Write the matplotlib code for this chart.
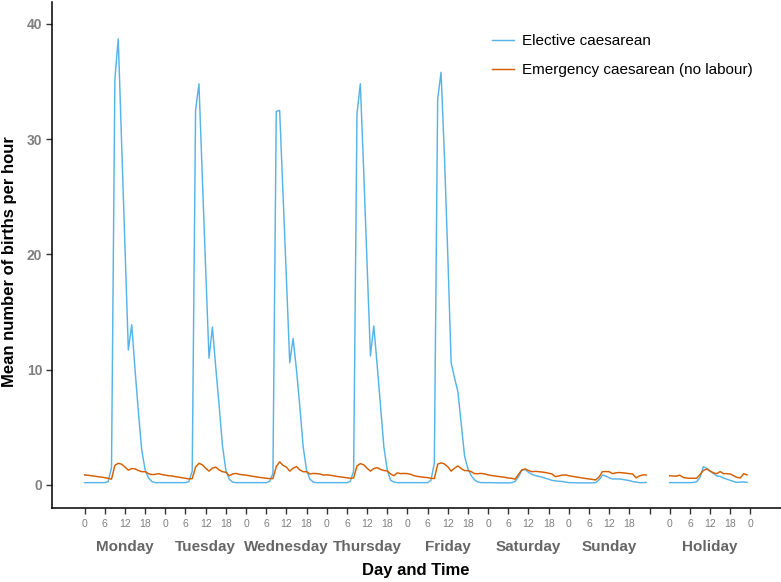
import matplotlib
matplotlib.use("Agg")
import matplotlib.pyplot as plt
from matplotlib.transforms import blended_transform_factory
import numpy as np

plt.rcParams['font.family'] = ['Liberation Sans', 'DejaVu Sans']

days = ["Monday", "Tuesday", "Wednesday", "Thursday", "Friday", "Saturday", "Sunday"]
holiday_label = "Holiday"
hour_tick_labels = ["0", "6", "12", "18"]

# Elective caesarean, mean births per hour (hours 0..23)
el_mon = [0.2, 0.2, 0.2, 0.2, 0.2, 0.2, 0.2, 0.3, 1.5, 35.2, 38.7, 29.6, 20.5, 11.7, 13.9, 10.0, 6.3, 3.0, 1.3, 0.6, 0.3, 0.2, 0.2, 0.2]
el_tue = [0.2, 0.2, 0.2, 0.2, 0.2, 0.2, 0.2, 0.3, 1.2, 32.5, 34.8, 26.7, 18.7, 11.0, 13.7, 10.2, 6.9, 3.4, 1.3, 0.5, 0.25, 0.2, 0.2, 0.2]
el_wed = [0.2, 0.2, 0.2, 0.2, 0.2, 0.2, 0.2, 0.3, 1.0, 32.4, 32.5, 25.3, 18.0, 10.6, 12.7, 10.0, 6.8, 3.3, 1.3, 0.5, 0.25, 0.2, 0.2, 0.2]
el_thu = [0.2, 0.2, 0.2, 0.2, 0.2, 0.2, 0.2, 0.3, 1.2, 32.2, 34.8, 27.2, 19.3, 11.2, 13.8, 10.4, 6.8, 3.3, 1.3, 0.4, 0.25, 0.2, 0.2, 0.2]
el_fri = [0.2, 0.2, 0.2, 0.2, 0.2, 0.2, 0.2, 0.4, 1.9, 33.5, 35.8, 28.6, 20.0, 10.6, 9.3, 8.1, 5.3, 2.5, 1.4, 0.8, 0.43, 0.25, 0.2, 0.2]
el_sat = [0.2, 0.2, 0.18, 0.18, 0.18, 0.18, 0.18, 0.2, 0.3, 0.7, 1.25, 1.35, 1.1, 0.92, 0.82, 0.75, 0.68, 0.58, 0.5, 0.4, 0.35, 0.32, 0.3, 0.25]
el_sun = [0.2, 0.2, 0.18, 0.18, 0.18, 0.18, 0.18, 0.18, 0.2, 0.45, 0.85, 0.78, 0.62, 0.52, 0.52, 0.52, 0.48, 0.43, 0.38, 0.29, 0.25, 0.2, 0.2, 0.22]
el_hol = [0.2, 0.2, 0.2, 0.2, 0.2, 0.2, 0.2, 0.22, 0.28, 0.65, 1.58, 1.45, 1.2, 1.0, 0.78, 0.74, 0.6, 0.5, 0.4, 0.3, 0.22, 0.25, 0.26, 0.22]

# Emergency caesarean (no labour), mean births per hour (hours 0..23)
em_mon = [0.87, 0.84, 0.80, 0.76, 0.72, 0.68, 0.63, 0.58, 0.50, 1.70, 1.88, 1.80, 1.55, 1.28, 1.42, 1.40, 1.25, 1.15, 1.15, 0.98, 0.90, 0.92, 0.98, 0.90]
em_tue = [0.85, 0.80, 0.78, 0.72, 0.68, 0.62, 0.58, 0.52, 0.55, 1.55, 1.88, 1.75, 1.45, 1.20, 1.45, 1.55, 1.30, 1.15, 1.10, 0.80, 0.95, 1.00, 0.92, 0.88]
em_wed = [0.85, 0.80, 0.75, 0.70, 0.66, 0.62, 0.58, 0.55, 0.55, 1.60, 2.00, 1.70, 1.55, 1.20, 1.45, 1.60, 1.30, 1.15, 1.15, 0.95, 1.00, 0.98, 0.95, 0.85]
em_thu = [0.88, 0.84, 0.80, 0.74, 0.70, 0.66, 0.62, 0.58, 0.60, 1.65, 1.85, 1.75, 1.45, 1.20, 1.42, 1.50, 1.35, 1.25, 1.22, 0.95, 0.80, 1.05, 0.98, 1.00]
em_fri = [0.98, 0.92, 0.80, 0.74, 0.70, 0.66, 0.64, 0.58, 0.55, 1.80, 1.92, 1.82, 1.58, 1.20, 1.45, 1.65, 1.42, 1.25, 1.24, 1.15, 0.98, 0.98, 1.00, 0.95]
em_sat = [0.87, 0.82, 0.78, 0.74, 0.70, 0.66, 0.60, 0.58, 0.50, 0.90, 1.30, 1.39, 1.25, 1.15, 1.18, 1.15, 1.12, 1.08, 1.02, 0.95, 0.72, 0.78, 0.85, 0.87]
em_sun = [0.80, 0.75, 0.70, 0.66, 0.60, 0.56, 0.52, 0.48, 0.43, 0.70, 1.16, 1.16, 1.15, 0.98, 1.05, 1.08, 1.05, 1.02, 0.98, 0.95, 0.62, 0.78, 0.87, 0.87]
em_hol = [0.80, 0.78, 0.76, 0.85, 0.65, 0.60, 0.58, 0.58, 0.58, 0.90, 1.25, 1.38, 1.22, 1.05, 0.98, 1.16, 0.98, 0.98, 0.95, 0.80, 0.66, 0.60, 0.98, 0.87]

elective_week = el_mon + el_tue + el_wed + el_thu + el_fri + el_sat + el_sun
emergency_week = em_mon + em_tue + em_wed + em_thu + em_fri + em_sat + em_sun

HOL_START = 174  # holiday block offset (hours) on the axis
x_week = np.arange(len(elective_week))
x_hol = HOL_START + np.arange(len(el_hol))

BLUE = "#56B4E9"
ORANGE = "#D55E00"

fig = plt.figure(figsize=(7.81, 5.82), dpi=100)
ax = fig.add_axes([52 / 781, 1 - 508 / 582, 1 - 52 / 781, (508 - 2) / 582])

ax.plot(x_week, elective_week, color=BLUE, lw=1.05, label="Elective caesarean")
ax.plot(x_week, emergency_week, color=ORANGE, lw=1.05, label="Emergency caesarean (no labour)")
ax.plot(x_hol, el_hol, color=BLUE, lw=1.05)
ax.plot(x_hol, em_hol, color=ORANGE, lw=1.05)

ax.set_xlim(-9.7, 207.1)
ax.set_ylim(-2.0, 41.9)

# x ticks
ticks = []
labels = []
for d in range(7):
    for i, lab in enumerate(hour_tick_labels):
        ticks.append(24 * d + 6 * i)
        labels.append(lab)
ticks.append(168)
labels.append("")
for i, lab in enumerate(hour_tick_labels + ["0"]):
    ticks.append(HOL_START + 6 * i)
    labels.append(lab)
ax.set_xticks(ticks)
ax.set_xticklabels(labels, fontsize=7.5, color="#7f7f7f")

ax.set_yticks([0, 10, 20, 30, 40])
ax.set_yticklabels(["0", "10", "20", "30", "40"], fontsize=10, fontweight="bold", color="#7f7f7f")

ax.tick_params(axis="both", direction="out", length=4, width=1.0, color="#333333")
ax.tick_params(axis="x", pad=4)
ax.tick_params(axis="y", pad=3)

for s in ["top", "right"]:
    ax.spines[s].set_visible(False)
for s in ["left", "bottom"]:
    ax.spines[s].set_color("black")
    ax.spines[s].set_linewidth(1.1)

# Day labels
trans = blended_transform_factory(ax.transData, fig.transFigure)
for d, name in enumerate(days):
    ax.text(24 * d + 12, 1 - 547 / 582, name, transform=trans, ha="center", va="center",
            fontsize=11, fontweight="bold", color="#666666")
ax.text(HOL_START + 12, 1 - 547 / 582, holiday_label, transform=trans, ha="center", va="center",
        fontsize=11, fontweight="bold", color="#666666")

fig.text(416 / 781, 1 - 571 / 582, "Day and Time", ha="center", va="center",
         fontsize=12, fontweight="bold", color="black")
fig.text(10 / 781, 1 - 262 / 582, "Mean number of births per hour", ha="center", va="center",
         rotation=90, fontsize=12, fontweight="bold", color="black")

leg = ax.legend(loc="upper left", bbox_to_anchor=(492 / 781, 1 - 34 / 582),
                bbox_transform=fig.transFigure, frameon=False, fontsize=11,
                handlelength=1.45, handletextpad=0.5, labelspacing=1.0,
                borderpad=0, borderaxespad=0)

fig.savefig("out.png", dpi=100)
